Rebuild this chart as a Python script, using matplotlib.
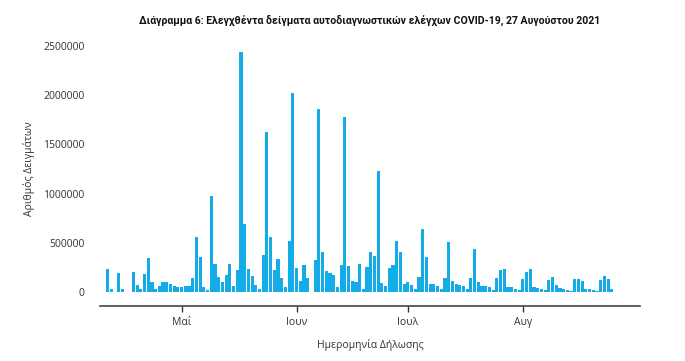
import numpy as np
import pandas as pd
import matplotlib
matplotlib.use("Agg")
import matplotlib.pyplot as plt
from matplotlib.ticker import FuncFormatter

# daily number of self-test samples, 11 Apr - 25 Aug 2021
start_date = "2021-04-11"
samples = [
    230000, 30000, 5000, 195000, 35000, 0, 0, 200000, 70000, 30000,
    180000, 345000, 105000, 30000, 60000, 105000, 100000, 80000, 65000, 50000,
    50000, 60000, 65000, 145000, 560000, 355000, 55000, 25000, 975000, 285000,
    150000, 105000, 170000, 285000, 65000, 220000, 2440000, 695000, 230000, 160000,
    75000, 30000, 375000, 1625000, 560000, 220000, 336000, 140000, 55000, 520000,
    2025000, 240000, 115000, 270000, 142000, 0, 325000, 1855000, 405000, 215000,
    197000, 173000, 55000, 275000, 1775000, 264000, 115000, 105000, 285000, 30000,
    255000, 410000, 370000, 1230000, 95000, 62000, 244000, 270000, 520000, 406000,
    80000, 100000, 75000, 35000, 150000, 637000, 355000, 85000, 80000, 62000,
    35000, 145000, 505000, 115000, 80000, 75000, 62000, 35000, 140000, 437000,
    100000, 62000, 62000, 50000, 20000, 142000, 222000, 230000, 55000, 48000,
    32000, 22000, 135000, 200000, 230000, 48000, 45000, 28000, 18000, 125000,
    155000, 75000, 42000, 32000, 25000, 10000, 130000, 130000, 110000, 35000,
    28000, 22000, 10000, 125000, 160000, 130000, 35000,
]
dates = pd.date_range(start_date, periods=len(samples), freq="D")

month_ticks = pd.to_datetime(["2021-05-01", "2021-06-01", "2021-07-01", "2021-08-01"])
month_labels = ["Μαΐ", "Ιουν", "Ιουλ", "Αυγ"]

title = "Διάγραμμα 6: Ελεγχθέντα δείγματα αυτοδιαγνωστικών ελέγχων COVID-19, 27 Αυγούστου 2021"

plt.rcParams["font.family"] = ["Open Sans", "DejaVu Sans"]

fig = plt.figure(figsize=(6.85, 3.61), dpi=100)
ax = fig.add_axes([100 / 685, 69 / 361, 540 / 685, 246 / 361])

ax.bar(dates, samples, width=0.85, color="#14ace6", linewidth=0)

ax.set_ylim(0, 2500000)
ax.set_yticks(np.arange(0, 2500001, 500000))
ax.yaxis.set_major_formatter(FuncFormatter(lambda v, p: "%d" % v))
ax.set_xlim(pd.Timestamp("2021-04-09"), pd.Timestamp("2021-09-01 14:00"))
ax.set_xticks(month_ticks)
ax.set_xticklabels(month_labels)

for s in ["top", "right", "left"]:
    ax.spines[s].set_visible(False)
ax.spines["bottom"].set_position(("outward", 10))
ax.spines["bottom"].set_color("#444444")
ax.spines["bottom"].set_linewidth(1.2)

ax.tick_params(axis="y", length=0, pad=11, labelsize=7.5, labelcolor="#333333")
ax.tick_params(axis="x", length=4, width=1, color="#333333", pad=4,
               labelsize=7.5, labelcolor="#333333")

ax.set_ylabel("Αριθμός Δειγμάτων", fontsize=7.5, color="#333333", labelpad=6)
ax.set_xlabel("Ημερομηνία Δήλωσης", fontsize=7.5, color="#333333", labelpad=8)

fig.text(370 / 685, 1 - 20 / 361, title, ha="center", va="center",
         fontsize=7.6, fontweight="bold", family=["Roboto", "DejaVu Sans"],
         color="#111111")

fig.savefig("out.png", dpi=100, facecolor="white")
